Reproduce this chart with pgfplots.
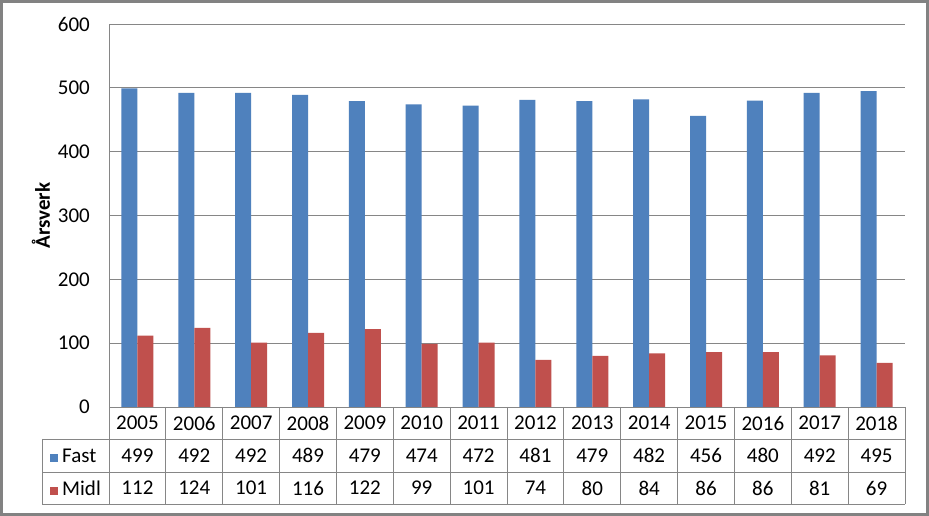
\documentclass[border=0pt]{standalone}
\usepackage{pgfplots}
\pgfplotsset{compat=1.18}
\usepackage{pgfplotstable}
\usepackage{fontspec}
\setmainfont{Carlito}
\definecolor{fastblue}{HTML}{4F81BD}
\definecolor{midlred}{HTML}{C0504D}
\definecolor{gridgray}{HTML}{868686}
\definecolor{framegray}{HTML}{828282}

\pgfplotstableread{
x year fast midl
0 2005 499 112
1 2006 492 124
2 2007 492 101
3 2008 489 116
4 2009 479 122
5 2010 474 99
6 2011 472 101
7 2012 481 74
8 2013 479 80
9 2014 482 84
10 2015 456 86
11 2016 480 86
12 2017 492 81
13 2018 495 69
}\data

\begin{document}
\fontsize{21pt}{25pt}\selectfont
\begin{tikzpicture}
\useasboundingbox (0,0) rectangle (929pt,516pt);
\fill[white] (0,0) rectangle (929pt,516pt);
\begin{axis}[
  at={(109pt,109pt)}, anchor=south west,
  scale only axis,
  width=796pt, height=383pt,
  xmin=-0.5, xmax=13.5,
  ymin=0, ymax=600,
  ytick={0,100,...,600},
  xtick=data,
  xticklabels={2005,2006,2007,2008,2009,2010,2011,2012,2013,2014,2015,2016,2017,2018},
  xticklabel style={anchor=center, inner sep=0pt, yshift=-16pt},
  yticklabel style={anchor=east, inner sep=0pt, xshift=-19pt},
  /pgf/number format/assume math mode=true,
  major tick length=0pt,
  axis x line*=bottom, axis y line*=left,
  axis line style={draw=gridgray, line width=0.9pt, -},
  ymajorgrids, grid style={draw=gridgray, line width=0.9pt},
  ylabel={\bfseries Årsverk},
  ylabel style={at={(axis description cs:-0.0854,0.5)}, anchor=center, inner sep=0pt},
  clip=false,
]
\addplot[ybar, bar width=16pt, bar shift=-8pt, fill=fastblue, draw=none] table[x=x, y=fast] {\data};
\addplot[ybar, bar width=16pt, bar shift=8pt, fill=midlred, draw=none] table[x=x, y=midl] {\data};
% table values
\addplot[draw=none, mark=none, nodes near coords, point meta=explicit symbolic,
  nodes near coords style={anchor=center, inner sep=0pt}] table[x=x, y expr=-76.0, meta=fast] {\data};
\addplot[draw=none, mark=none, nodes near coords, point meta=explicit symbolic,
  nodes near coords style={anchor=center, inner sep=0pt}] table[x=x, y expr=-127.0, meta=midl] {\data};
% table grid
\draw[gridgray, line width=0.9pt] (axis cs:-1.678,-50.1) -- (axis cs:13.5,-50.1);
\draw[gridgray, line width=0.9pt] (axis cs:-1.678,-101.8) -- (axis cs:13.5,-101.8);
\draw[gridgray, line width=0.9pt] (axis cs:-1.678,-151.9) -- (axis cs:13.5,-151.9);
\draw[gridgray, line width=0.9pt] (axis cs:-1.678,-50.1) -- (axis cs:-1.678,-151.9);
\pgfplotsinvokeforeach{-0.5,0.5,1.5,2.5,3.5,4.5,5.5,6.5,7.5,8.5,9.5,10.5,11.5,12.5,13.5}{
  \draw[gridgray, line width=0.9pt] (axis cs:#1,0) -- (axis cs:#1,-151.9);
}
\node[anchor=west, inner sep=0pt] at (axis cs:-1.678+0.1407,-76.0) {\textcolor{fastblue}{\rule{8pt}{8pt}}\hspace{4pt}Fast};
\node[anchor=west, inner sep=0pt] at (axis cs:-1.678+0.1407,-127.0) {\textcolor{midlred}{\rule{8pt}{8pt}}\hspace{4pt}Midl};
\end{axis}
\draw[framegray, line width=3pt] (1.5pt,1.5pt) rectangle (927.5pt,514.5pt);
\end{tikzpicture}
\end{document}
